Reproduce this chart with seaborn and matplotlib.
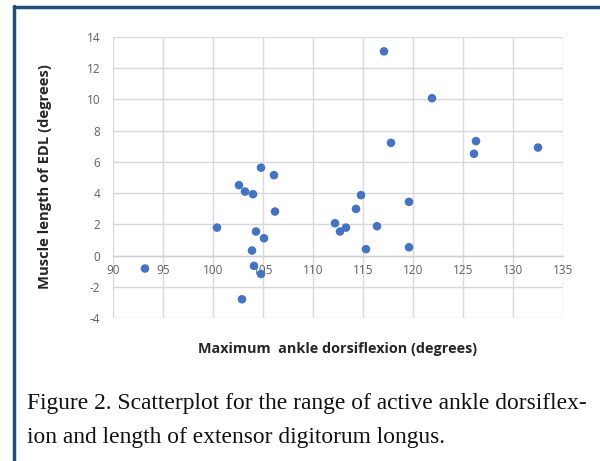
import matplotlib
matplotlib.use("Agg")
import matplotlib.pyplot as plt
import seaborn as sns
import pandas as pd
from matplotlib.lines import Line2D

# Data
dorsiflexion = [93.2, 100.4, 102.6, 102.9, 103.2, 103.9, 104.0, 104.1, 104.3, 104.8,
                104.8, 105.1, 106.1, 106.2, 112.2, 112.7, 113.3, 114.3, 114.8, 115.3,
                116.4, 117.1, 117.8, 119.6, 119.6, 121.9, 126.1, 126.3, 132.5]
edl_length = [-0.83, 1.79, 4.51, -2.80, 4.10, 0.32, 3.93, -0.66, 1.54, 5.63,
              -1.18, 1.11, 5.15, 2.82, 2.07, 1.54, 1.79, 2.99, 3.87, 0.41,
              1.88, 13.08, 7.22, 3.44, 0.53, 10.08, 6.52, 7.33, 6.92]
x_ticks = [90, 95, 100, 105, 110, 115, 120, 125, 130, 135]
y_ticks = [-4, -2, 0, 2, 4, 6, 8, 10, 12, 14]

x_label = "Maximum  ankle dorsiflexion (degrees)"
y_label = "Muscle length of EDL (degrees)"
caption_lines = ["Figure 2. Scatterplot for the range of active ankle dorsiflex-",
                 "ion and length of extensor digitorum longus."]

df = pd.DataFrame({"x": dorsiflexion, "y": edl_length})

sns.set_style("white")
plt.rcParams["font.family"] = ["Open Sans", "DejaVu Sans"]

W, H = 600, 461
fig = plt.figure(figsize=(W / 100, H / 100), dpi=100)
ax = fig.add_axes([113 / W, 1 - 318 / H, (563 - 113) / W, (318 - 37) / H])

sns.scatterplot(data=df, x="x", y="y", ax=ax, color="#4472C4", s=38,
                edgecolor="none", zorder=5, clip_on=False)

ax.set_xlim(90, 135)
ax.set_ylim(-4, 14)
ax.set_xticks(x_ticks)
ax.set_yticks(y_ticks)
ax.set_xticklabels([str(v) for v in x_ticks])
ax.set_yticklabels([str(v) for v in y_ticks])
ax.grid(True, color="#d9d9d9", linewidth=1.0)
ax.set_axisbelow(True)
for side in ["top", "right", "left"]:
    ax.spines[side].set_visible(False)
ax.spines["bottom"].set_position(("data", 0))
ax.spines["bottom"].set_color("#d0d0d0")
ax.spines["bottom"].set_linewidth(1.0)
ax.tick_params(axis="both", length=0, labelsize=8.5, labelcolor="#606060")
ax.tick_params(axis="x", pad=6)
ax.tick_params(axis="y", pad=9)
ax.set_xlabel("")
ax.set_ylabel("")

fig.text(338 / W, 1 - 349 / H, x_label, ha="center", va="center",
         fontsize=10.4, fontweight="bold", color="#262626")
fig.text(45 / W, 1 - 177 / H, y_label, ha="center", va="center", rotation=90,
         fontsize=10.6, fontweight="bold", color="#262626")

for i, line in enumerate(caption_lines):
    fig.text(27 / W, 1 - (403 + 34 * i) / H, line, ha="left", va="center",
             fontsize=16.9, family=["Liberation Serif", "DejaVu Serif"], color="#111111")

# dark blue frame (top and left)
frame_color = "#1f4e79"
fig.add_artist(Line2D([13.5 / W, 1.0], [1 - 7.5 / H, 1 - 7.5 / H],
                      transform=fig.transFigure, color=frame_color, linewidth=2.5))
fig.add_artist(Line2D([14 / W, 14 / W], [0, 1 - 6.5 / H],
                      transform=fig.transFigure, color=frame_color, linewidth=2.5))

fig.savefig("out.png", dpi=100)
